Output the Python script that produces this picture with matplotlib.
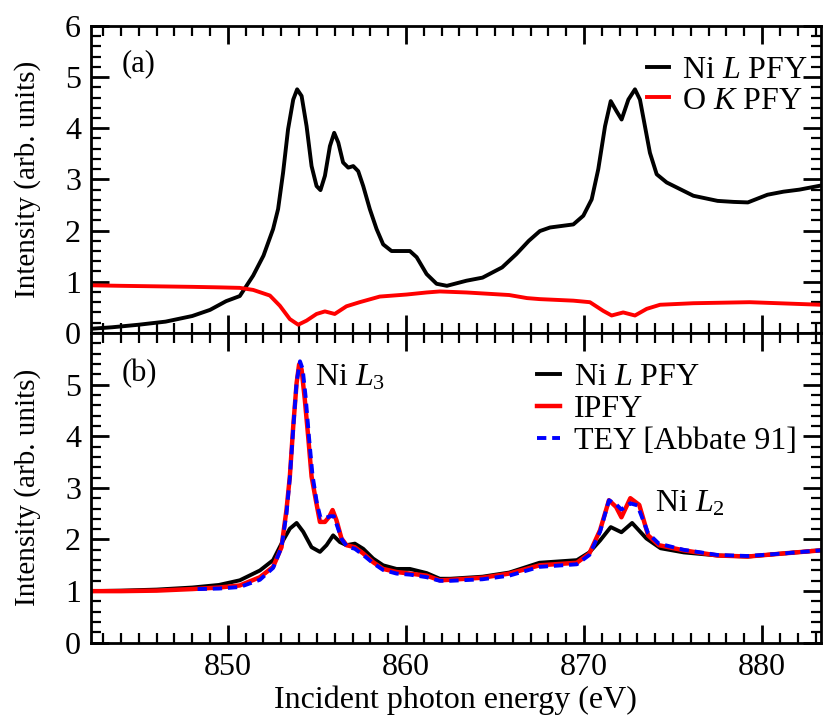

import matplotlib

matplotlib.use("Agg")
import matplotlib.pyplot as plt
from matplotlib.ticker import MultipleLocator

# ---- panel (a) ----
e_ni_a = [842.3, 843.5, 845.0, 846.5, 848.0, 849.0, 849.9, 850.67, 851.42, 852.0,
          852.54, 852.82, 853.1, 853.38, 853.67, 853.89, 854.14, 854.42, 854.7, 854.98,
          855.2, 855.45, 855.73, 855.97, 856.2, 856.47, 856.76, 857.04, 857.32, 857.6,
          857.97, 858.35, 858.72, 859.19, 859.75, 860.22, 860.6, 861.16, 861.72, 862.3,
          863.4, 864.3, 865.4, 866.2, 866.9, 867.52, 868.09, 869.4, 869.96, 870.43,
          870.8, 871.18, 871.5, 871.83, 872.11, 872.49, 872.86, 873.14, 873.42, 873.7,
          874.08, 874.64, 875.39, 876.14, 877.5, 878.4, 879.2, 880.3, 881.2, 882.1, 883.3]
ni_pfy_a = [0.08, 0.11, 0.16, 0.22, 0.33, 0.45, 0.62, 0.72, 1.12, 1.51,
            2.03, 2.42, 3.13, 3.98, 4.56, 4.76, 4.63, 4.04, 3.26, 2.87,
            2.79, 3.07, 3.65, 3.91, 3.72, 3.33, 3.23, 3.26, 3.16, 2.87,
            2.42, 2.03, 1.73, 1.60, 1.60, 1.60, 1.48, 1.15, 0.96, 0.92,
            1.02, 1.08, 1.28, 1.54, 1.80, 1.99, 2.06, 2.12, 2.29, 2.61,
            3.20, 4.04, 4.53, 4.33, 4.17, 4.56, 4.76, 4.56, 4.04, 3.52,
            3.10, 2.94, 2.81, 2.68, 2.58, 2.56, 2.55, 2.70, 2.76, 2.80, 2.88]

e_o_a = [842.3, 844.0, 846.0, 848.0, 849.5, 850.67, 851.42, 852.36, 852.92, 853.48,
         853.95, 854.42, 854.98, 855.45, 856.0, 856.66, 857.4, 858.53, 860.04, 861.16,
         861.9, 863.4, 865.8, 866.8, 867.52, 869.4, 870.33, 871.08, 871.55, 872.2,
         872.86, 873.52, 874.27, 876.14, 879.3, 883.3]
o_pfy_a = [0.93, 0.92, 0.91, 0.90, 0.89, 0.88, 0.84, 0.73, 0.53, 0.27,
           0.16, 0.24, 0.37, 0.42, 0.37, 0.52, 0.60, 0.71, 0.75, 0.79,
           0.81, 0.79, 0.74, 0.68, 0.66, 0.63, 0.60, 0.43, 0.34, 0.40,
           0.34, 0.47, 0.55, 0.58, 0.60, 0.55]

# ---- panel (b) ----
e_b = [842.3, 844.0, 846.0, 848.0, 849.5, 850.67, 851.8, 852.54, 853.1, 853.48,
       853.86, 854.23, 854.7, 855.17, 855.54, 855.91, 856.29, 856.66, 857.13, 857.6,
       858.16, 858.72, 859.47, 860.22, 861.16, 861.9, 862.5, 864.3, 865.8, 867.5,
       869.6, 870.3, 870.9, 871.5, 872.1, 872.7, 873.5, 874.3, 875.6, 877.5,
       879.2, 881.2, 883.3]
ni_pfy_b = [1.00, 1.01, 1.03, 1.07, 1.12, 1.21, 1.40, 1.60, 1.98, 2.21,
            2.32, 2.15, 1.85, 1.76, 1.89, 2.08, 1.95, 1.89, 1.92, 1.82,
            1.63, 1.50, 1.43, 1.43, 1.35, 1.24, 1.24, 1.28, 1.36, 1.55,
            1.60, 1.75, 1.98, 2.24, 2.14, 2.32, 2.02, 1.83, 1.75, 1.69,
            1.67, 1.73, 1.79]

e_ipfy = [842.3, 844.0, 846.0, 848.0, 849.5, 850.67, 851.8, 852.54, 853.01, 853.29,
          853.48, 853.67, 853.86, 854.0, 854.14, 854.32, 854.51, 854.7, 854.94, 855.17,
          855.45, 855.69, 855.88, 856.1, 856.38, 856.66, 857.13, 857.6, 858.16, 858.72,
          859.47, 860.22, 861.16, 861.9, 862.5, 864.3, 865.8, 867.5, 869.6, 870.3,
          870.9, 871.4, 871.8, 872.1, 872.6, 873.1, 873.6, 874.2, 875.6, 877.5,
          879.2, 881.2, 883.3]
ipfy = [1.00, 1.00, 1.01, 1.04, 1.07, 1.11, 1.27, 1.47, 1.85, 2.57,
        3.22, 4.19, 5.03, 5.39, 5.29, 4.71, 3.99, 3.22, 2.76, 2.34,
        2.34, 2.44, 2.57, 2.37, 2.02, 1.89, 1.85, 1.73, 1.56, 1.43,
        1.37, 1.34, 1.30, 1.21, 1.22, 1.26, 1.34, 1.50, 1.55, 1.73,
        2.18, 2.76, 2.63, 2.43, 2.80, 2.67, 2.08, 1.89, 1.79, 1.69,
        1.67, 1.73, 1.79]

e_tey = [848.3, 849.5, 850.67, 851.8, 852.54, 853.01, 853.29, 853.48, 853.67, 853.86,
         854.05, 854.2, 854.37, 854.55, 854.75, 855.0, 855.2, 855.5, 855.75, 855.95,
         856.15, 856.4, 856.7, 857.13, 857.6, 858.16, 858.72, 859.47, 860.22, 861.16,
         861.9, 862.5, 864.3, 865.8, 867.5, 869.6, 870.3, 870.9, 871.4, 871.8,
         872.1, 872.6, 873.0, 873.6, 874.2, 875.6, 877.5, 879.2, 881.2, 883.3]
tey = [1.04, 1.05, 1.08, 1.22, 1.45, 1.85, 2.50, 3.20, 4.15, 5.05,
       5.45, 5.30, 4.75, 4.00, 3.25, 2.70, 2.42, 2.42, 2.45, 2.45,
       2.25, 2.00, 1.86, 1.82, 1.70, 1.54, 1.41, 1.34, 1.32, 1.27,
       1.20, 1.20, 1.23, 1.30, 1.47, 1.52, 1.70, 2.15, 2.76, 2.68,
       2.58, 2.70, 2.66, 2.12, 1.92, 1.80, 1.70, 1.68, 1.73, 1.79]

plt.rcParams.update({
    "font.family": "Liberation Serif",
    "mathtext.fontset": "custom",
    "mathtext.rm": "Liberation Serif",
    "mathtext.it": "Liberation Serif:italic",
    "font.size": 22,
    "axes.linewidth": 2.0,
})


def style(ax):
    ax.set_xlim(842.3, 883.3)
    ax.set_ylim(0, 6)
    ax.xaxis.set_major_locator(MultipleLocator(10))
    ax.xaxis.set_minor_locator(MultipleLocator(1))
    ax.yaxis.set_major_locator(MultipleLocator(1))
    ax.yaxis.set_minor_locator(MultipleLocator(0.2))
    ax.tick_params(which="both", direction="in", top=True, right=True, labelsize=23)
    ax.tick_params(which="major", length=13, width=2.0, pad=7)
    ax.tick_params(which="minor", length=7, width=1.6)
    ax.set_ylabel("Intensity (arb. units)", fontsize=21)
    ax.yaxis.set_label_coords(-0.068, 0.5)


def main():
    fig = plt.figure(figsize=(8.25, 7.19), dpi=100)
    ax1 = fig.add_axes([0.110, 0.537, 0.885, 0.427])
    ax2 = fig.add_axes([0.110, 0.106, 0.885, 0.431], sharex=ax1)

    lw = 2.8
    ax1.plot(e_ni_a, ni_pfy_a, color="black", lw=lw, label="Ni $L$ PFY")
    ax1.plot(e_o_a, o_pfy_a, color="#ff0000", lw=lw, label="O $K$ PFY")
    style(ax1)
    ax1.tick_params(labelbottom=False)
    ax1.text(0.042, 0.877, "(a)", transform=ax1.transAxes, va="center", fontsize=22)
    ax1.legend(loc="upper right", bbox_to_anchor=(0.982, 0.904), frameon=False,
               fontsize=23, handlelength=0.7, handletextpad=0.4,
               labelspacing=0.05, borderpad=0, borderaxespad=0)

    ax2.plot(e_b, ni_pfy_b, color="black", lw=lw, label="Ni $L$ PFY")
    ax2.plot(e_ipfy, ipfy, color="#ff0000", lw=lw + 0.4, label="IPFY")
    ax2.plot(e_tey, tey, color="#0000ff", lw=lw, dashes=(2.4, 1.5),
             label="TEY [Abbate 91]")
    style(ax2)
    ax2.set_yticks([0, 1, 2, 3, 4, 5])
    ax2.set_ylim(0, 6)
    ax2.text(0.042, 0.87, "(b)", transform=ax2.transAxes, va="center", fontsize=22)
    ax2.text(854.9, 5.13, "Ni $L_3$", va="center", fontsize=23)
    ax2.text(874.0, 2.7, "Ni $L_2$", va="center", fontsize=23)
    ax2.legend(loc="upper right", bbox_to_anchor=(0.967, 0.904), frameon=False,
               fontsize=23, handlelength=0.7, handletextpad=0.45,
               labelspacing=0.09, borderpad=0, borderaxespad=0)
    ax2.set_xlabel("Incident photon energy (eV)", fontsize=23, labelpad=3)

    fig.savefig("out.png", dpi=100)


if __name__ == "__main__":
    main()
